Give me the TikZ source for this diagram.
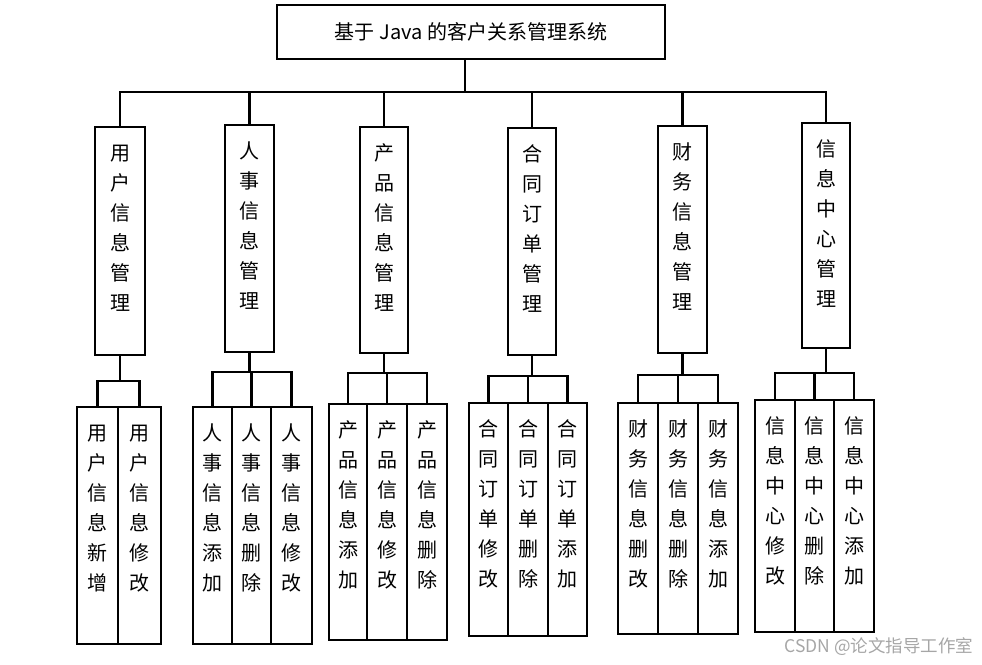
\documentclass[tikz,border=0pt]{standalone}
\usepackage{fontspec}
\setmainfont{Noto Sans CJK SC}
\usepackage{tikz}
\usetikzlibrary{positioning,calc}

% vertical label: characters stacked, top aligned in a box of given height
\newcommand{\vlabel}[2]{\parbox[t][#1pt][t]{24pt}{\centering\fontsize{20}{30}\selectfont\rule{0pt}{33pt}#2}}

\begin{document}
\begin{tikzpicture}[
  x=1pt, y=-1pt,
  root/.style={draw, line width=2.6pt, inner sep=0pt, outer sep=0pt,
               minimum width=388pt, minimum height=54pt,
               font=\fontsize{20}{24}\selectfont},
  module/.style={draw, line width=2.6pt, inner sep=0pt, outer sep=0pt},
  leaf/.style={draw, line width=2.6pt, inner sep=0pt, outer sep=0pt},
  link/.style={line width=2.6pt},
  watermark/.style={text=black!35, font=\fontsize{17.5}{20}\selectfont}
]
\useasboundingbox (0,0) rectangle (982,664);

\node[root] (sys) at (471,32) {基于 Java 的客户关系管理系统};
\coordinate (bus) at (465,92);

% second level
\node[module, minimum width=50pt] (m1) at (120,241)   {\vlabel{228}{用\\户\\信\\息\\管\\理}};
\node[module, minimum width=49pt] (m2) at (249.5,238.5) {\vlabel{227}{人\\事\\信\\息\\管\\理}};
\node[module, minimum width=48pt] (m3) at (384,240)   {\vlabel{226}{产\\品\\信\\息\\管\\理}};
\node[module, minimum width=48pt] (m4) at (532,241.5) {\vlabel{227}{合\\同\\订\\单\\管\\理}};
\node[module, minimum width=49pt] (m5) at (682.5,239.5) {\vlabel{227}{财\\务\\信\\息\\管\\理}};
\node[module, minimum width=48pt] (m6) at (826,235.5) {\vlabel{225}{信\\息\\中\\心\\管\\理}};

\draw[link] (sys.south -| bus) -- (bus);
\foreach \m in {m1,m2,m3,m4,m5,m6}
  \draw[link] (\m.north) |- (bus);

% user
\node[leaf, minimum width=41pt] (u1) at (97.5,525.5)  {\vlabel{237}{用\\户\\信\\息\\新\\增}};
\node[leaf, minimum width=43pt] (u2) at (139.5,525.5) {\vlabel{237}{用\\户\\信\\息\\修\\改}};
\coordinate (j1) at (120,381);
\draw[link] (m1.south) -- (j1);
\draw[link] (u1.north) |- (j1) -| (u2.north);

% staff
\node[leaf, minimum width=39pt] (p1) at (212.5,525.5) {\vlabel{237}{人\\事\\信\\息\\添\\加}};
\node[leaf, minimum width=39pt] (p2) at (251.5,525.5) {\vlabel{237}{人\\事\\信\\息\\删\\除}};
\node[leaf, minimum width=41pt] (p3) at (291.5,525.5) {\vlabel{237}{人\\事\\信\\息\\修\\改}};
\coordinate (j2) at (249.5,372);
\draw[link] (m2.south) -- (j2);
\draw[link] (p2.north) -- (p2.north |- j2);
\draw[link] (p1.north) |- (j2) -| (p3.north);

% product
\node[leaf, minimum width=38pt] (g1) at (348,522) {\vlabel{236}{产\\品\\信\\息\\添\\加}};
\node[leaf, minimum width=40pt] (g2) at (387,522) {\vlabel{236}{产\\品\\信\\息\\修\\改}};
\node[leaf, minimum width=40pt] (g3) at (427,522) {\vlabel{236}{产\\品\\信\\息\\删\\除}};
\coordinate (j3) at (384,373);
\draw[link] (m3.south) -- (j3);
\draw[link] (g2.north) -- (g2.north |- j3);
\draw[link] (g1.north) |- (j3) -| (g3.north);

% contract
\node[leaf, minimum width=39pt] (c1) at (488.5,519.5) {\vlabel{233}{合\\同\\订\\单\\修\\改}};
\node[leaf, minimum width=40pt] (c2) at (528,519.5)   {\vlabel{233}{合\\同\\订\\单\\删\\除}};
\node[leaf, minimum width=39pt] (c3) at (567.5,519.5) {\vlabel{233}{合\\同\\订\\单\\添\\加}};
\coordinate (j4) at (532,376);
\draw[link] (m4.south) -- (j4);
\draw[link] (c2.north) -- (c2.north |- j4);
\draw[link] (c1.north) |- (j4) -| (c3.north);

% finance
\node[leaf, minimum width=40pt] (f1) at (638,518.5) {\vlabel{231}{财\\务\\信\\息\\删\\改}};
\node[leaf, minimum width=40pt] (f2) at (678,518.5) {\vlabel{231}{财\\务\\信\\息\\删\\除}};
\node[leaf, minimum width=40pt] (f3) at (718,518.5) {\vlabel{231}{财\\务\\信\\息\\添\\加}};
\coordinate (j5) at (682.5,375);
\draw[link] (m5.south) -- (j5);
\draw[link] (f2.north) -- (f2.north |- j5);
\draw[link] (f1.north) |- (j5) -| (f3.north);

% info center
\node[leaf, minimum width=40pt] (i1) at (775,516)   {\vlabel{232}{信\\息\\中\\心\\修\\改}};
\node[leaf, minimum width=39pt] (i2) at (814.5,516) {\vlabel{232}{信\\息\\中\\心\\删\\除}};
\node[leaf, minimum width=40pt] (i3) at (854,516)   {\vlabel{232}{信\\息\\中\\心\\添\\加}};
\coordinate (j6) at (826,373);
\draw[link] (m6.south) -- (j6);
\draw[link] (i2.north) -- (i2.north |- j6);
\draw[link] (i1.north) |- (j6) -| (i3.north);

\node[watermark, anchor=east] (wm) at (977,647) {CSDN @论文指导工作室};
\end{tikzpicture}
\end{document}
